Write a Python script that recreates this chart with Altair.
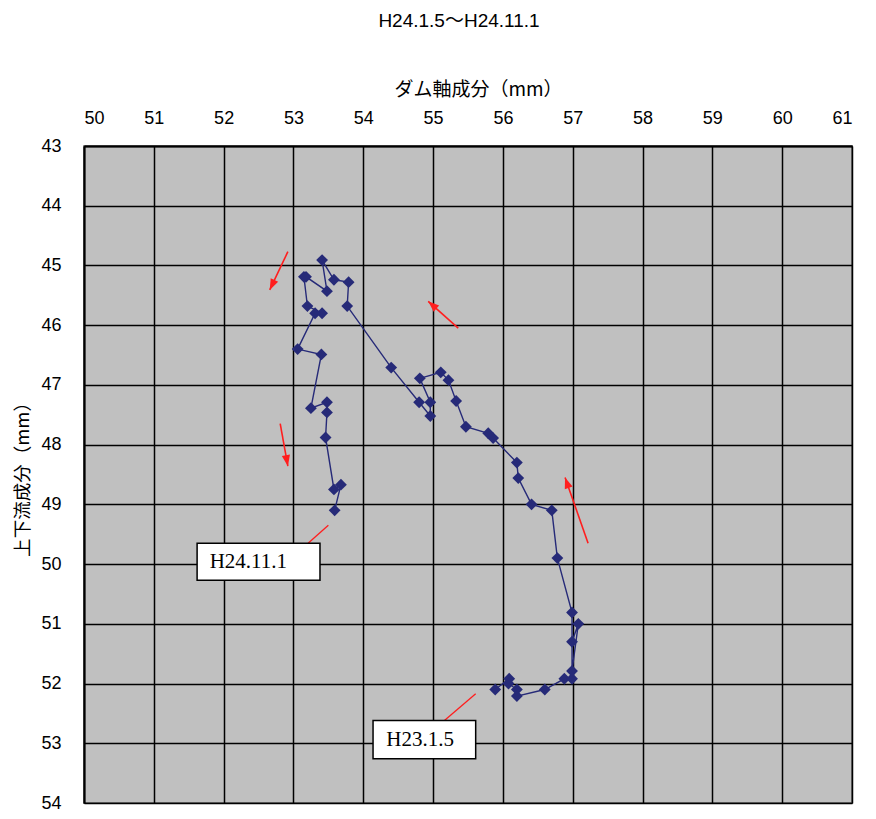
import math
import altair as alt
import pandas as pd

# ---- data ----
dam_axis = [55.89, 56.09, 56.08, 56.20, 56.20, 56.60, 56.88, 56.99, 56.99, 57.08,
            56.99, 56.99, 56.78, 56.70, 56.41, 56.22, 56.20, 55.86, 55.79, 55.47,
            55.33, 55.22, 55.11, 54.81, 54.96, 54.96, 54.80, 54.40, 53.77, 53.79,
            53.58, 53.41, 53.48, 53.18, 53.15, 53.20, 53.41, 53.31, 53.06, 53.40,
            53.25, 53.48, 53.48, 53.46, 53.58, 53.68, 53.59]
updown = [52.10, 51.92, 52.00, 52.10, 52.21, 52.10, 51.92, 51.92, 51.30, 51.00,
          51.79, 50.81, 49.90, 49.10, 49.00, 48.56, 48.30, 47.89, 47.81, 47.70,
          47.27, 46.92, 46.79, 46.89, 47.29, 47.52, 47.29, 46.71, 45.68, 45.28,
          45.24, 44.91, 45.43, 45.19, 45.19, 45.68, 45.80, 45.80, 46.40, 46.49,
          47.39, 47.29, 47.46, 47.88, 48.75, 48.67, 49.10]

x_ticks = list(range(50, 62))
y_ticks = list(range(43, 55))

# red direction arrows: tail -> tip
arrow_x_tail = [52.92, 55.36, 52.81, 57.22]
arrow_y_tail = [44.77, 46.05, 47.65, 49.65]
arrow_x_tip = [52.66, 54.93, 52.92, 56.89]
arrow_y_tip = [45.41, 45.60, 48.36, 48.55]

# date callouts
label_text = ["H24.11.1", "H23.1.5"]
box_x1 = [51.62, 54.14]
box_x2 = [53.38, 55.61]
box_y1 = [49.65, 52.62]
box_y2 = [50.27, 53.26]
text_x = [51.80, 54.33]
text_y = [49.97, 52.95]
leader_x1 = [53.21, 55.15]
leader_y1 = [49.65, 52.63]
leader_x2 = [53.50, 55.61]
leader_y2 = [49.35, 52.17]

NAVY = "#262A78"
RED = "#FF1E1E"
W, H = 768, 657
PX_X = W / (x_ticks[-1] - x_ticks[0])
PX_Y = H / (y_ticks[-1] - y_ticks[0])

df = pd.DataFrame({"i": range(len(dam_axis)), "x": dam_axis, "y": updown})

angles = []
for xt, yt, xh, yh in zip(arrow_x_tail, arrow_y_tail, arrow_x_tip, arrow_y_tip):
    dx = (xh - xt) * PX_X
    dy = (yh - yt) * PX_Y
    angles.append(math.degrees(math.atan2(dx, -dy)) % 360)
arrows = pd.DataFrame({"x": arrow_x_tail, "y": arrow_y_tail,
                       "x2": arrow_x_tip, "y2": arrow_y_tip, "ang": angles})
boxes = pd.DataFrame({"x": box_x1, "x2": box_x2, "y": box_y1, "y2": box_y2,
                      "tx": text_x, "ty": text_y, "t": label_text,
                      "lx": leader_x1, "ly": leader_y1, "lx2": leader_x2, "ly2": leader_y2})

xs = alt.Scale(domain=[x_ticks[0], x_ticks[-1]], nice=False, zero=False)
ys = alt.Scale(domain=[y_ticks[0], y_ticks[-1]], nice=False, zero=False, reverse=True)

x_axis = alt.Axis(orient="top", title="ダム軸成分（mm）", values=x_ticks, format="d",
                  ticks=False, tickSize=0, labelPadding=19, labelFontSize=18,
                  labelFont="Liberation Sans", labelColor="#000",
                  titleFont="Noto Sans CJK JP", titleFontSize=19, titleFontWeight="normal",
                  titleColor="#000", titlePadding=10, titleX=W / 2 + 10,
                  grid=True, gridColor="#000", gridWidth=1.5, gridOpacity=1,
                  domainColor="#000", domainWidth=2)
y_axis = alt.Axis(orient="left", title="上下流成分（mm）", values=y_ticks, format="d",
                  ticks=False, tickSize=0, labelPadding=23, labelFontSize=18,
                  labelFont="Liberation Sans", labelColor="#000",
                  titleFont="Noto Sans CJK JP", titleFontSize=18.5, titleFontWeight="normal",
                  titleColor="#000", titlePadding=8,
                  grid=True, gridColor="#000", gridWidth=1.5, gridOpacity=1,
                  domainColor="#000", domainWidth=2)

base = alt.Chart(df)
line = base.mark_line(color=NAVY, strokeWidth=1.4).encode(
    x=alt.X("x:Q", scale=xs, axis=x_axis),
    y=alt.Y("y:Q", scale=ys, axis=y_axis),
    order="i:Q",
)
points = base.mark_point(shape="diamond", filled=True, size=140, color=NAVY, opacity=1).encode(
    x=alt.X("x:Q", scale=xs), y=alt.Y("y:Q", scale=ys)
)

arrow_lines = alt.Chart(arrows).mark_rule(color=RED, strokeWidth=1.6).encode(
    x=alt.X("x:Q", scale=xs), y=alt.Y("y:Q", scale=ys),
    x2="x2:Q", y2="y2:Q",
)
arrow_heads = alt.Chart(arrows).mark_point(
    shape="M0,0L-0.75,2L0.75,2Z", filled=True, size=121, color=RED, opacity=1
).encode(
    x=alt.X("x2:Q", scale=xs), y=alt.Y("y2:Q", scale=ys),
    angle=alt.Angle("ang:Q", scale=None),
)

leaders = alt.Chart(boxes).mark_rule(color=RED, strokeWidth=1.3).encode(
    x=alt.X("lx:Q", scale=xs), y=alt.Y("ly:Q", scale=ys), x2="lx2:Q", y2="ly2:Q"
)
rects = alt.Chart(boxes).mark_rect(fill="#FFFFFF", stroke="#000", strokeWidth=1.5).encode(
    x=alt.X("x:Q", scale=xs), x2="x2:Q", y=alt.Y("y:Q", scale=ys), y2="y2:Q"
)
texts = alt.Chart(boxes).mark_text(
    align="left", baseline="middle", font="Liberation Serif", fontSize=21, color="#000"
).encode(x=alt.X("tx:Q", scale=xs), y=alt.Y("ty:Q", scale=ys), text="t:N")

chart = alt.layer(line, points, arrow_lines, arrow_heads, leaders, rects, texts).properties(
    width=W, height=H,
    title=alt.Title("H24.1.5～H24.11.1", font="Liberation Sans, Noto Sans CJK JP", fontSize=19,
                    fontWeight="normal", color="#000", offset=49, anchor="middle", dx=-9),
    autosize=alt.AutoSizeParams(type="none"),
    padding={"left": 76, "top": 138, "right": 8, "bottom": 8},
).configure_view(fill="#C0C0C0", stroke="#555", strokeWidth=1.5)

chart.save("out.html", embed_options={"renderer": "svg", "actions": False})
